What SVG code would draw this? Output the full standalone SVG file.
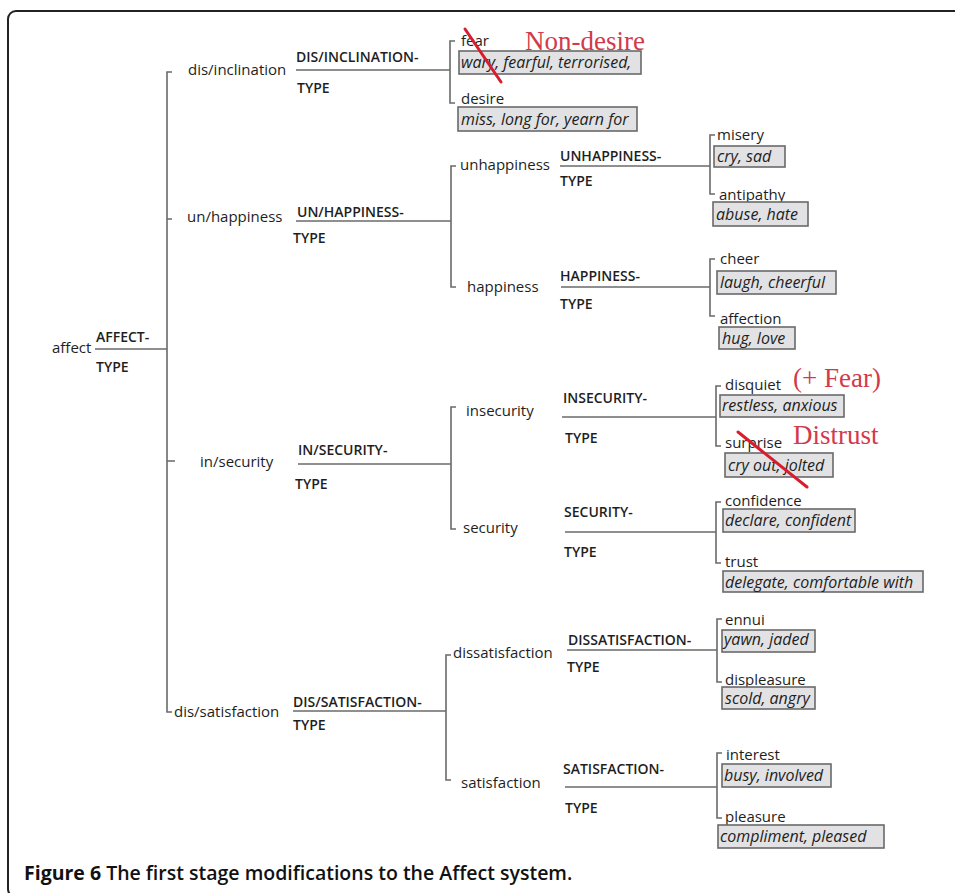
<svg xmlns="http://www.w3.org/2000/svg" width="955" height="893" viewBox="0 0 955 893">
  <style>
    .lbl { font-family: "Open Sans", "Liberation Sans", sans-serif; font-size: 15px; fill: #1e1e1e; }
    .cap { font-family: "Open Sans", "Liberation Sans", sans-serif; font-size: 14px; font-weight: 600; fill: #1e1e1e; }
    .ex { font-family: "Open Sans", "Liberation Sans", sans-serif; font-size: 16px; font-style: italic; fill: #1e1e1e; }
    .box { fill: #e2e2e4; stroke: #6a6a6a; stroke-width: 1.6; }
    .wire { fill: none; stroke: #6a6a6a; stroke-width: 1.6; }
    .note { font-family: "Liberation Serif", "Times New Roman", serif; font-size: 27px; fill: #d23a4a; }
    .strike { stroke: #d81e2e; stroke-width: 3; stroke-linecap: round; }
    .caption { font-family: "Open Sans", "Liberation Sans", sans-serif; font-size: 19.5px; fill: #111; }
  </style>

  <rect x="0" y="0" width="955" height="893" fill="#ffffff"/>
  <!-- panel frame -->
  <rect x="8" y="11" width="980" height="886" rx="8" fill="none" stroke="#222" stroke-width="2"/>

  <!-- connectors: system lines and choice brackets -->
  <g id="connectors" class="wire">
    <path d="M95 349 H167"/>
    <path d="M172 72 H167 V712 H172 M167 219 H172 M167 461 H175"/>
    <path d="M296 70 H450"/>
    <path d="M455 41 H450 V103 H455"/>
    <path d="M296 221 H451"/>
    <path d="M456 166 H451 V287 H456"/>
    <path d="M560 166 H710"/>
    <path d="M715 135 H710 V194 H715"/>
    <path d="M561 287 H710"/>
    <path d="M715 259 H710 V316 H715"/>
    <path d="M298 464 H451"/>
    <path d="M456 407 H451 V529 H456"/>
    <path d="M562 417 H716"/>
    <path d="M721 386 H716 V446 H721"/>
    <path d="M565 532 H716"/>
    <path d="M721 502 H716 V563 H721"/>
    <path d="M293 711 H446"/>
    <path d="M451 655 H446 V780 H451"/>
    <path d="M567 650 H717"/>
    <path d="M722 619 H717 V682 H722"/>
    <path d="M565 787 H717"/>
    <path d="M722 753 H717 V818 H722"/>
  </g>

  <g id="affect">
    <text class="lbl" x="52" y="353">affect</text>
    <text class="cap" x="96" y="342">AFFECT-</text>
    <text class="cap" x="96" y="372">TYPE</text>
  </g>

  <g id="dis-inclination">
    <text class="lbl" x="188" y="75">dis/inclination</text>
    <text class="cap" x="296" y="62">DIS/INCLINATION-</text>
    <text class="cap" x="297" y="93">TYPE</text>
  </g>
  <g id="fear">
    <text class="lbl" x="461" y="46">fear</text>
    <rect class="box" x="459" y="51" width="182" height="23"/>
    <text class="ex" x="461" y="68">wary, fearful, terrorised,</text>
  </g>
  <g id="desire">
    <text class="lbl" x="461" y="104">desire</text>
    <rect class="box" x="458" y="107" width="179" height="24"/>
    <text class="ex" x="461" y="125">miss, long for, yearn for</text>
  </g>

  <g id="un-happiness">
    <text class="lbl" x="187" y="222">un/happiness</text>
    <text class="cap" x="297" y="217">UN/HAPPINESS-</text>
    <text class="cap" x="293" y="243">TYPE</text>
  </g>
  <g id="unhappiness">
    <text class="lbl" x="460" y="170">unhappiness</text>
    <text class="cap" x="560" y="161">UNHAPPINESS-</text>
    <text class="cap" x="560" y="186">TYPE</text>
  </g>
  <g id="misery">
    <text class="lbl" x="717" y="140">misery</text>
    <rect class="box" x="714" y="146" width="71" height="21"/>
    <text class="ex" x="717" y="162">cry, sad</text>
  </g>
  <g id="antipathy">
    <text class="lbl" x="719" y="200">antipathy</text>
    <rect class="box" x="713" y="202" width="95" height="24"/>
    <text class="ex" x="716" y="220">abuse, hate</text>
  </g>
  <g id="happiness">
    <text class="lbl" x="467" y="292">happiness</text>
    <text class="cap" x="560" y="281">HAPPINESS-</text>
    <text class="cap" x="560" y="309">TYPE</text>
  </g>
  <g id="cheer">
    <text class="lbl" x="720" y="264">cheer</text>
    <rect class="box" x="717" y="271" width="119" height="23"/>
    <text class="ex" x="720" y="288">laugh, cheerful</text>
  </g>
  <g id="affection">
    <text class="lbl" x="720" y="324">affection</text>
    <rect class="box" x="719" y="327" width="76" height="22"/>
    <text class="ex" x="722" y="344">hug, love</text>
  </g>

  <g id="in-security">
    <text class="lbl" x="200" y="467">in/security</text>
    <text class="cap" x="298" y="455">IN/SECURITY-</text>
    <text class="cap" x="295" y="489">TYPE</text>
  </g>
  <g id="insecurity">
    <text class="lbl" x="466" y="416">insecurity</text>
    <text class="cap" x="563" y="403">INSECURITY-</text>
    <text class="cap" x="565" y="443">TYPE</text>
  </g>
  <g id="disquiet">
    <text class="lbl" x="725" y="390">disquiet</text>
    <rect class="box" x="720" y="395" width="124" height="22"/>
    <text class="ex" x="722" y="411">restless, anxious</text>
  </g>
  <g id="surprise">
    <text class="lbl" x="725" y="448">surprise</text>
    <rect class="box" x="725" y="453" width="108" height="24"/>
    <text class="ex" x="728" y="471">cry out, jolted</text>
  </g>
  <g id="security">
    <text class="lbl" x="463" y="533">security</text>
    <text class="cap" x="564" y="517">SECURITY-</text>
    <text class="cap" x="564" y="557">TYPE</text>
  </g>
  <g id="confidence">
    <text class="lbl" x="725" y="506">confidence</text>
    <rect class="box" x="723" y="509" width="132" height="23"/>
    <text class="ex" x="725" y="526">declare, confident</text>
  </g>
  <g id="trust">
    <text class="lbl" x="725" y="567">trust</text>
    <rect class="box" x="723" y="571" width="200" height="21"/>
    <text class="ex" x="725" y="588">delegate, comfortable with</text>
  </g>

  <g id="dis-satisfaction">
    <text class="lbl" x="174" y="717">dis/satisfaction</text>
    <text class="cap" x="293" y="707">DIS/SATISFACTION-</text>
    <text class="cap" x="293" y="730">TYPE</text>
  </g>
  <g id="dissatisfaction">
    <text class="lbl" x="453" y="658">dissatisfaction</text>
    <text class="cap" x="568" y="645">DISSATISFACTION-</text>
    <text class="cap" x="567" y="672">TYPE</text>
  </g>
  <g id="ennui">
    <text class="lbl" x="725" y="625">ennui</text>
    <rect class="box" x="722" y="630" width="93" height="22"/>
    <text class="ex" x="724" y="645">yawn, jaded</text>
  </g>
  <g id="displeasure">
    <text class="lbl" x="725" y="685">displeasure</text>
    <rect class="box" x="722" y="687" width="93" height="22"/>
    <text class="ex" x="725" y="704">scold, angry</text>
  </g>
  <g id="satisfaction">
    <text class="lbl" x="461" y="788">satisfaction</text>
    <text class="cap" x="563" y="774">SATISFACTION-</text>
    <text class="cap" x="565" y="813">TYPE</text>
  </g>
  <g id="interest">
    <text class="lbl" x="726" y="760">interest</text>
    <rect class="box" x="722" y="764" width="109" height="23"/>
    <text class="ex" x="724" y="781">busy, involved</text>
  </g>
  <g id="pleasure">
    <text class="lbl" x="725" y="822">pleasure</text>
    <rect class="box" x="718" y="825" width="166" height="23"/>
    <text class="ex" x="720" y="842">compliment, pleased</text>
  </g>

  <!-- hand-written revisions -->
  <g id="revisions">
    <line class="strike" x1="465" y1="29" x2="501" y2="82"/>
    <text class="note" x="525" y="50">Non-desire</text>
    <text class="note" x="793" y="387">(+ Fear)</text>
    <line class="strike" x1="738" y1="432" x2="807" y2="487"/>
    <text class="note" x="793" y="444">Distrust</text>
  </g>

  <text class="caption" x="24" y="880"><tspan font-weight="700">Figure 6</tspan><tspan font-weight="600"> The first stage modifications to the Affect system.</tspan></text>
</svg>
